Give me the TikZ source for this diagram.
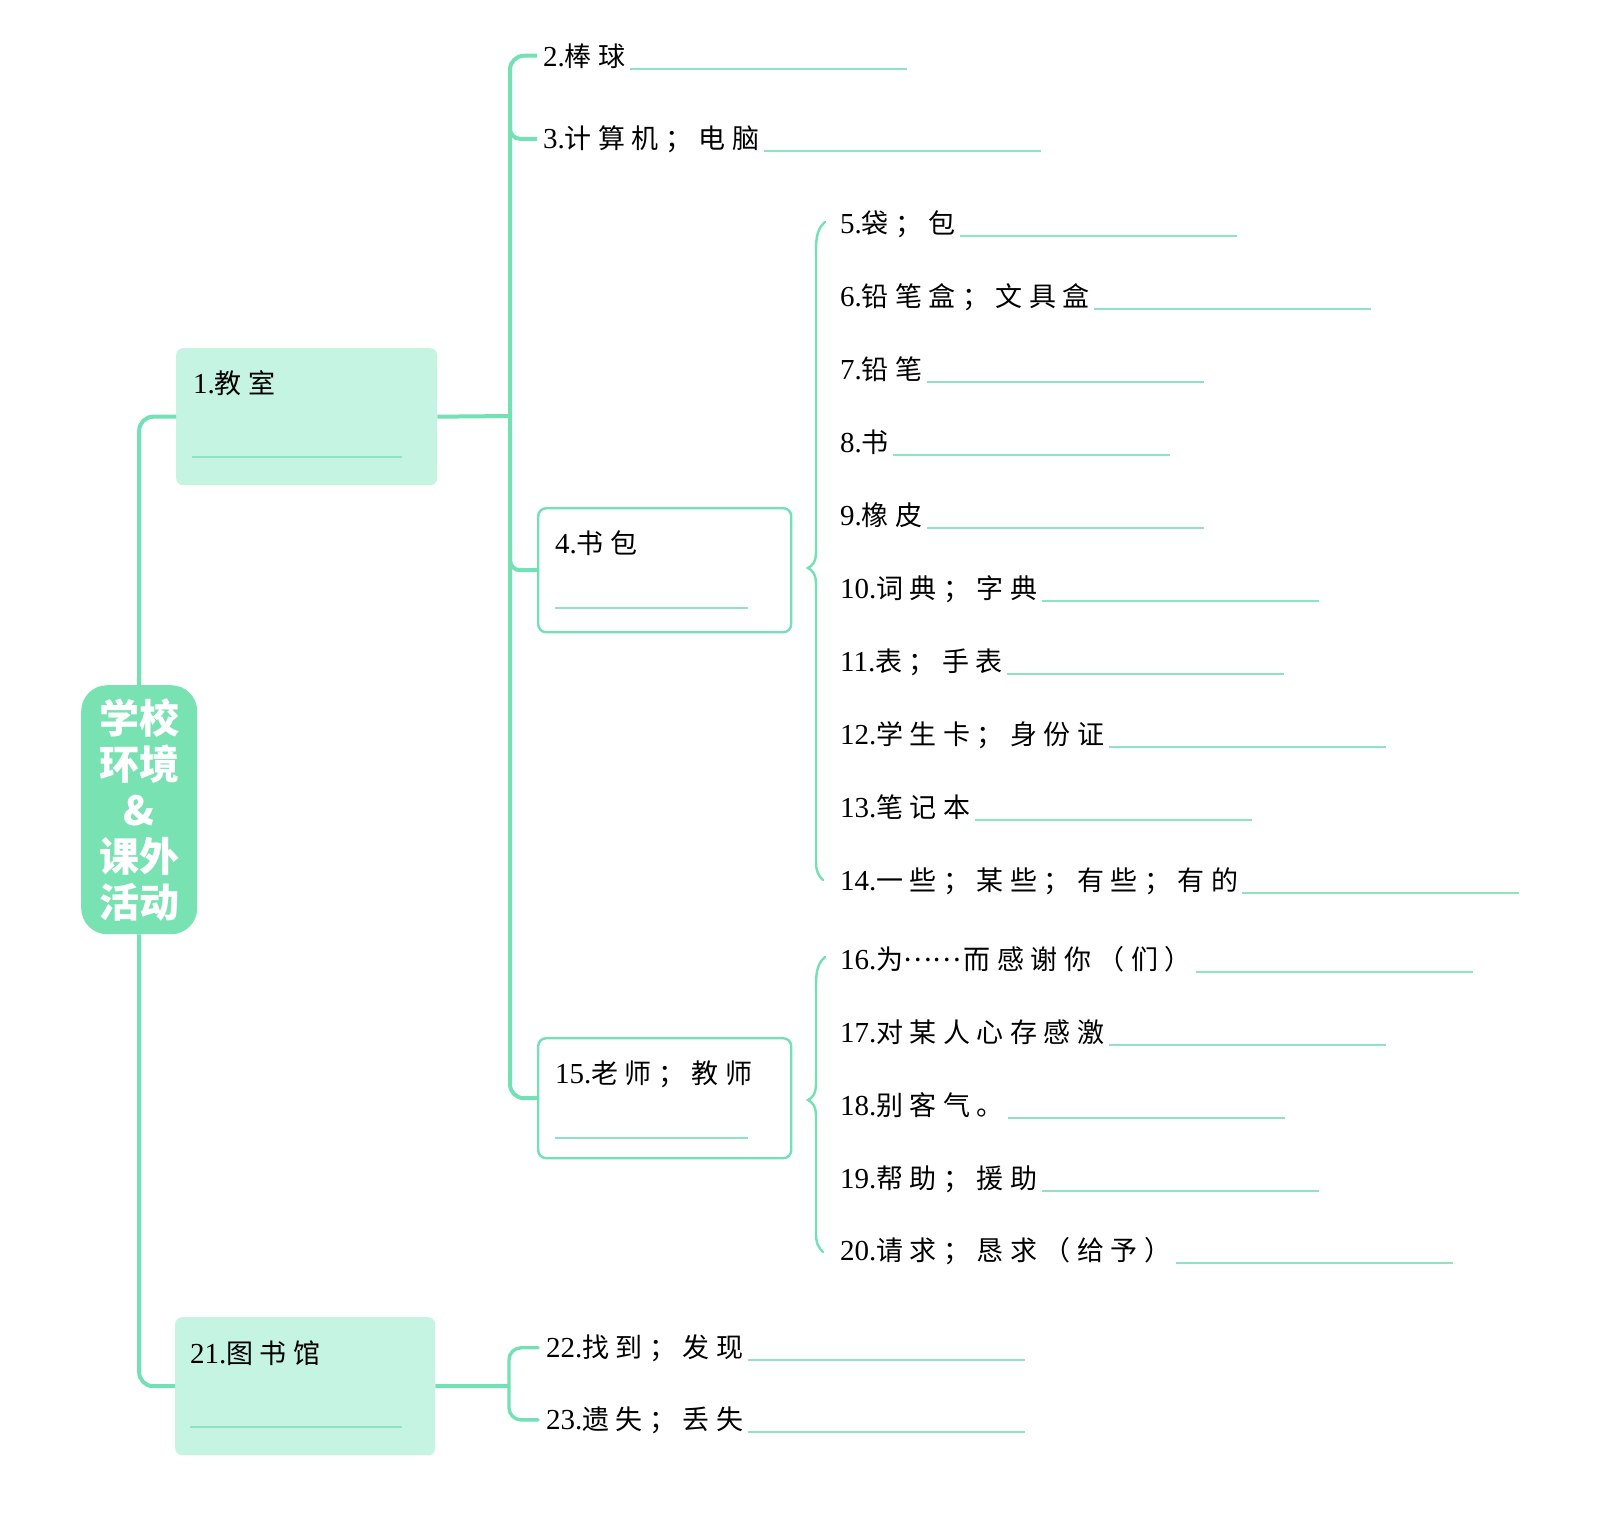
\documentclass[tikz,border=0pt]{standalone}
\usepackage{fontspec}
\setmainfont{Liberation Serif}
\newfontfamily\cjk{Noto Sans CJK SC}[LetterSpace=24]
\newfontfamily\rootfont{Noto Sans CJK SC}
\usetikzlibrary{calc}
\definecolor{lineg}{HTML}{74E0B5}
\definecolor{boxg}{HTML}{C5F4E2}
\definecolor{rootg}{HTML}{79E2B3}
\definecolor{ruleg}{HTML}{8FE3C0}
\newcommand\zh[1]{{\fontsize{27pt}{34pt}\selectfont\cjk #1}}
\newcommand\midellip{{\fontsize{27pt}{34pt}\selectfont\rootfont\raisebox{8pt}{……}\hspace{3pt}}}
\begin{document}
\begin{tikzpicture}[x=1pt,y=-1pt,
  main/.style={draw=lineg,line width=4pt},
  bracel/.style={draw=lineg,line width=2.4pt,line cap=round},
  rulel/.style={draw=ruleg,line width=1.6pt},
  item/.style={anchor=base west,inner sep=0pt,font=\fontsize{29pt}{34pt}\selectfont},
  fillbox/.style={fill=boxg,rounded corners=7pt,anchor=north west,inner sep=0pt},
  linebox/.style={draw=lineg,line width=2.4pt,fill=white,rounded corners=8pt,anchor=north west,inner sep=0pt},
]
\useasboundingbox (0,0) rectangle (1623,1513);
\fill[white] (0,0) rectangle (1623,1513);

% root
\node[fill=rootg,rounded corners=26pt,anchor=north west,inner sep=0pt,minimum width=116pt,minimum height=249pt] (root) at (81,685) {};
% boxes
\node[fillbox,minimum width=261pt,minimum height=137pt] (b1) at (176,348) {};
\node[fillbox,minimum width=260pt,minimum height=138pt] (b21) at (175,1317) {};
\node[linebox,minimum width=253pt,minimum height=124pt] (b4) at (537,507) {};
\node[linebox,minimum width=253pt,minimum height=120pt] (b15) at (537,1037) {};

% main connectors
\draw[main,rounded corners=14pt] (root.north) |- (b1.west);
\draw[main,rounded corners=14pt] (root.south) |- (b21.west);

% items
\node[item] (t2) at (543,66) {2.\zh{棒球}};
\node[item] (t3) at (543,148) {3.\zh{计算机；电脑}};
\node[item] (t5) at (840,233) {5.\zh{袋；包}};
\node[item] (t6) at (840,306) {6.\zh{铅笔盒；文具盒}};
\node[item] (t7) at (840,379) {7.\zh{铅笔}};
\node[item] (t8) at (840,452) {8.\zh{书}};
\node[item] (t9) at (840,525) {9.\zh{橡皮}};
\node[item] (t10) at (840,598) {10.\zh{词典；字典}};
\node[item] (t11) at (840,671) {11.\zh{表；手表}};
\node[item] (t12) at (840,744) {12.\zh{学生卡；身份证}};
\node[item] (t13) at (840,817) {13.\zh{笔记本}};
\node[item] (t14) at (840,890) {14.\zh{一些；某些；有些；有的}};
\node[item] (t16) at (840,969) {16.\zh{为}\midellip\zh{而感谢你（们）}};
\node[item] (t17) at (840,1042) {17.\zh{对某人心存感激}};
\node[item] (t18) at (840,1115) {18.\zh{别客气。}};
\node[item] (t19) at (840,1188) {19.\zh{帮助；援助}};
\node[item] (t20) at (840,1260) {20.\zh{请求；恳求（给予）}};
\node[item] (t22) at (546,1357) {22.\zh{找到；发现}};
\node[item] (t23) at (546,1429) {23.\zh{遗失；丢失}};

% box texts
\node[item] (t1) at (193,393) {1.\zh{教室}};
\node[item] (t4) at (555,553) {4.\zh{书包}};
\node[item] (t15) at (555,1083) {15.\zh{老师；教师}};
\node[item] (t21) at (190,1363) {21.\zh{图书馆}};

% root text
\node[text=white,align=center,inner sep=0pt,font=\rootfont\bfseries\fontsize{40pt}{46pt}\selectfont] (rt) at ($(root.center)+(0,0)$) {学校\\环境\\\&\\课外\\活动};

% answer rules
\foreach \t in {t2,t3,t5,t6,t7,t8,t9,t10,t11,t12,t13,t14,t16,t17,t18,t19,t20,t22,t23}
  \draw[rulel] ($(\t.base east)+(4,3)$) -- ++(277,0);
\draw[rulel] (192,457) -- (402,457);
\draw[rulel] (555,608) -- (748,608);
\draw[rulel] (555,1138) -- (748,1138);
\draw[rulel] (190,1427) -- (402,1427);

% second level trunk
\coordinate (v1) at (510,416);
\draw[main] (b1.east) -- (v1);
\draw[main,rounded corners=14pt] ([xshift=-6pt]t2.west) -| (v1) |- (b15.west);
\draw[main,rounded corners=10pt] (510,120) |- ([xshift=-6pt]t3.west);
\draw[main,rounded corners=10pt] (510,545) |- (b4.west);

% library branch
\coordinate (v2) at (509,1386);
\draw[main] (b21.east) -- (v2);
\draw[bracel,line width=3.4pt,rounded corners=12pt] ([xshift=-8pt]t22.west) -| (v2) |- ([xshift=-8pt]t23.west);

% braces
\coordinate (br1a) at (825,222);
\coordinate (br1t) at (808,568);
\coordinate (br1b) at (823,880);
\draw[bracel] (br1a) .. controls (818,228) and (816,236) .. (816,250) -- (816,552)
  .. controls (816,562) and (812,566) .. (br1t)
  .. controls (812,570) and (816,574) .. (816,584) -- (816,862)
  .. controls (816,872) and (819,876) .. (br1b);
\coordinate (br2a) at (825,957);
\coordinate (br2t) at (808,1100);
\coordinate (br2b) at (823,1252);
\draw[bracel] (br2a) .. controls (818,963) and (816,971) .. (816,985) -- (816,1084)
  .. controls (816,1094) and (812,1098) .. (br2t)
  .. controls (812,1102) and (816,1106) .. (816,1116) -- (816,1234)
  .. controls (816,1244) and (819,1248) .. (br2b);
\end{tikzpicture}
\end{document}
